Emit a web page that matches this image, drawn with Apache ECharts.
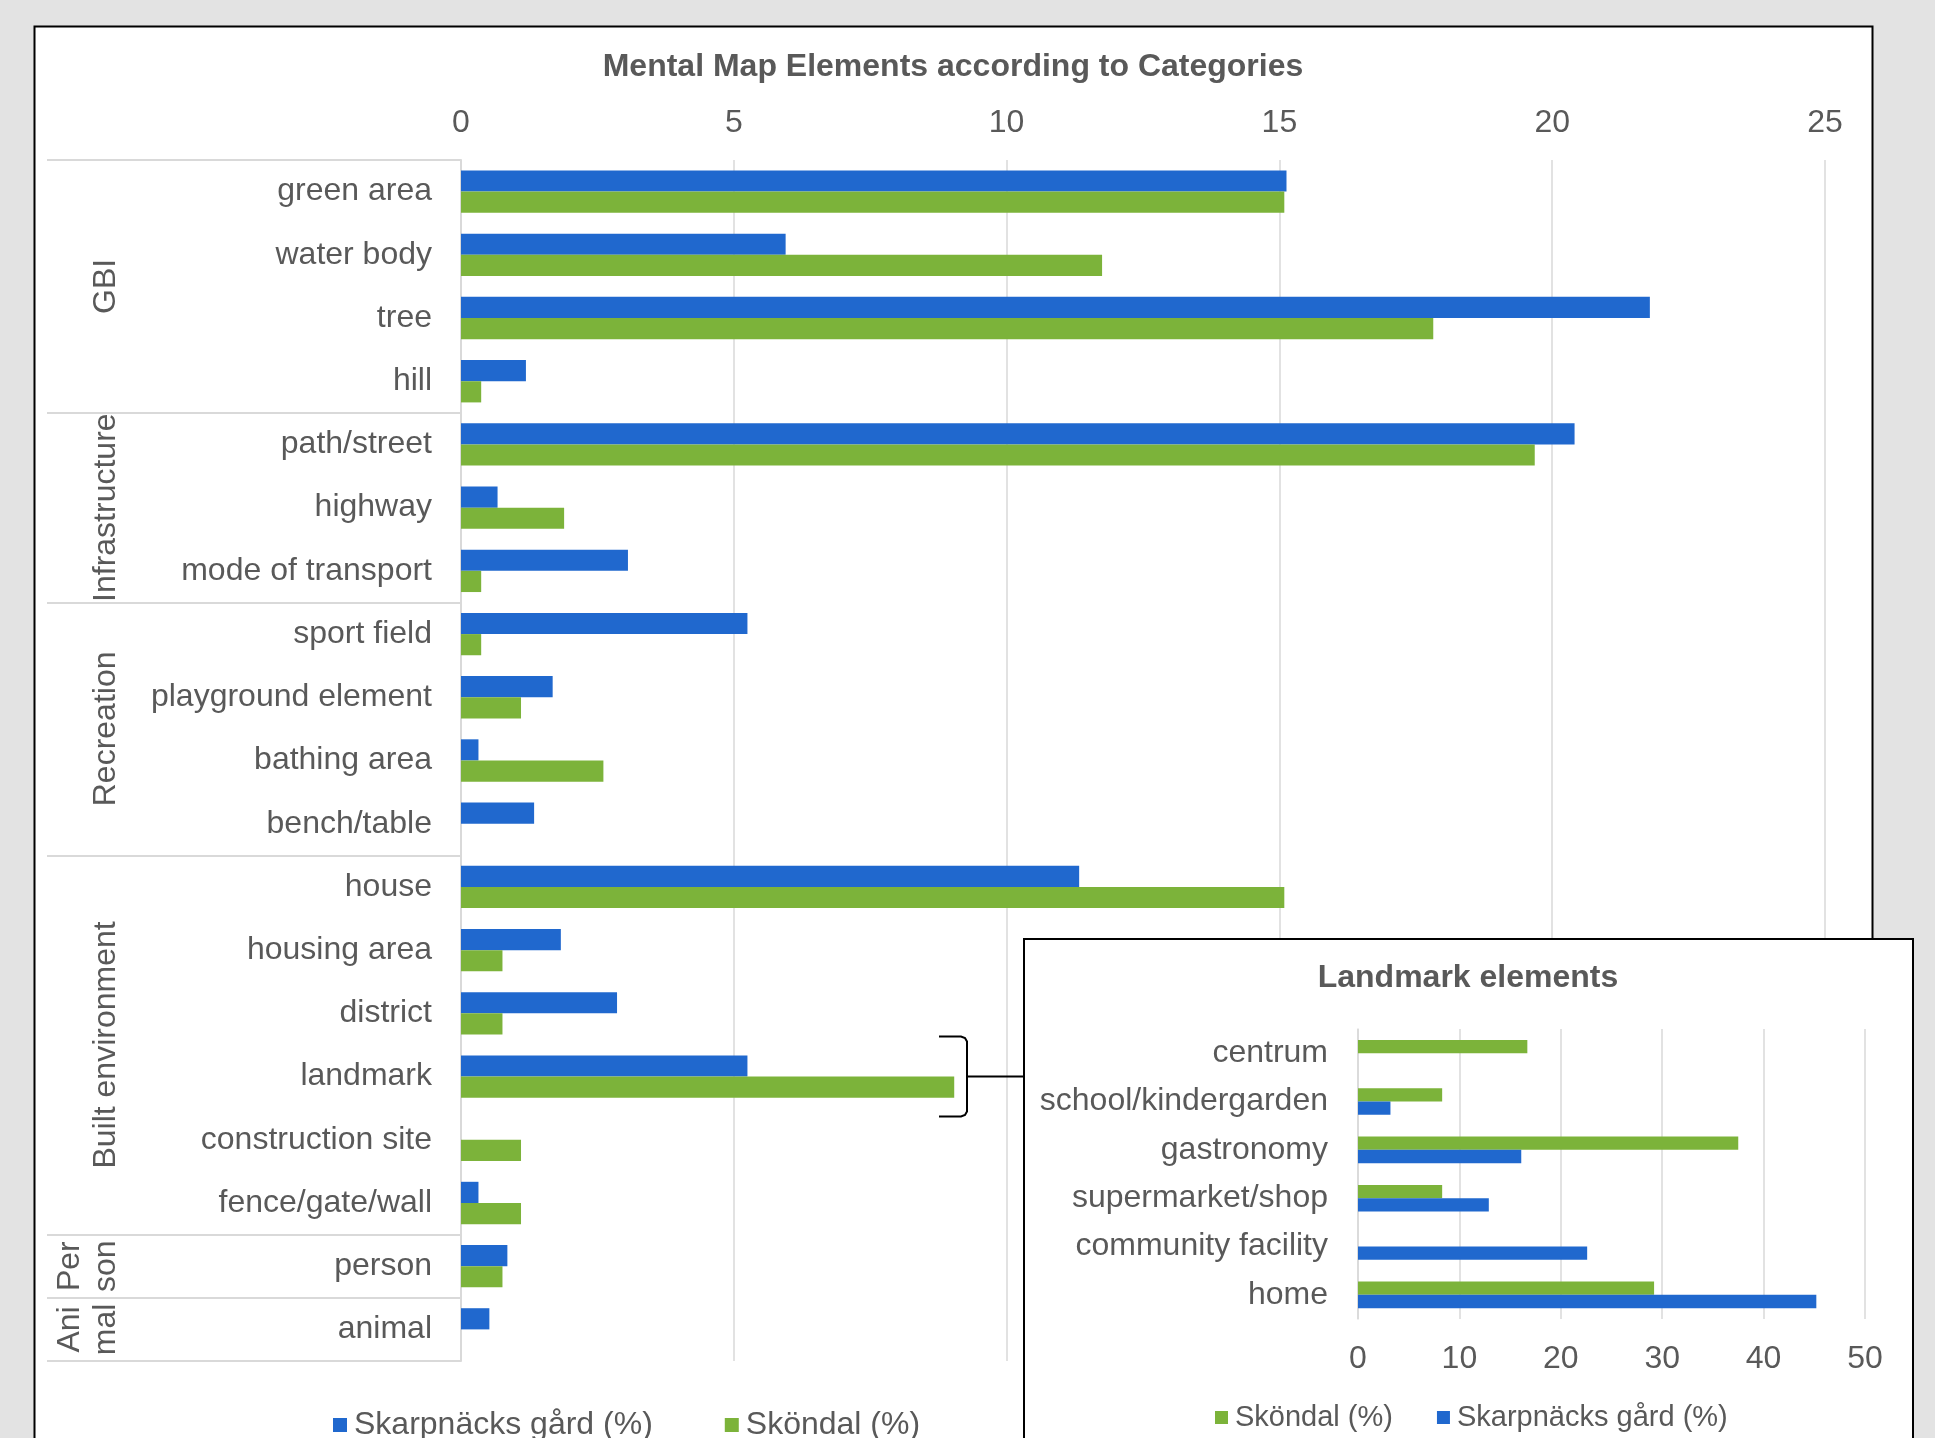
<!DOCTYPE html>
<html>
<head>
<meta charset="utf-8">
<script src="https://cdn.jsdelivr.net/npm/echarts@6/dist/echarts.min.js"></script>
<style>
html,body{margin:0;padding:0;background:#e3e3e3;overflow:hidden;}
#c{width:1935px;height:1438px;}
</style>
</head>
<body>
<div id="c"></div>
<script>
// ---------- data ----------
const categories = ['green area','water body','tree','hill','path/street','highway','mode of transport',
  'sport field','playground element','bathing area','bench/table','house','housing area','district',
  'landmark','construction site','fence/gate/wall','person','animal'];
const skarpnacks = [15.13, 5.95, 21.79, 1.19, 20.41, 0.67, 3.06, 5.25, 1.68, 0.32, 1.34, 11.33, 1.83, 2.86, 5.25, 0, 0.32, 0.85, 0.52];
const skondal    = [15.09, 11.75, 17.82, 0.37, 19.68, 1.89, 0.37, 0.37, 1.10, 2.61, 0, 15.09, 0.76, 0.76, 9.04, 1.10, 1.10, 0.76, 0];
const groupNames  = ['GBI','Infrastructure','Recreation','Built environment','Per\nson','Ani\nmal'];
const groupFirst  = [0, 4, 7, 11, 17, 18];
const groupLast   = [3, 6, 10, 16, 17, 18];
const mainTicks = [0, 5, 10, 15, 20, 25];

const landmarkCategories = ['centrum','school/kindergarden','gastronomy','supermarket/shop','community facility','home'];
const landmarkSkondal    = [16.7, 8.3, 37.5, 8.3, 0, 29.2];
const landmarkSkarpnacks = [0, 3.2, 16.1, 12.9, 22.6, 45.2];
const insetTicks = [0, 10, 20, 30, 40, 50];

const seriesNames = ['Skarpnäcks gård (%)', 'Sköndal (%)'];

// ---------- style ----------
const FONT = "'Liberation Sans', Arial, sans-serif";
const TXT = '#595959';
const GRIDC = '#d9d9d9';
const BLUE = '#2068ce';
const GREEN = '#7cb33a';

const chart = echarts.init(document.getElementById('c'), null, {renderer: 'canvas'});

const option = {
  backgroundColor: '#e3e3e3',
  animation: false,
  textStyle: {fontFamily: FONT},
  title: [
    {text: 'Mental Map Elements according to Categories', left: 953, top: 51, textAlign: 'center', padding: 0, z: 3,
     textStyle: {fontSize: 32, fontWeight: 'bold', color: TXT, fontFamily: FONT}},
    {text: 'Landmark elements', left: 1468, top: 962, textAlign: 'center', padding: 0, z: 13,
     textStyle: {fontSize: 32, fontWeight: 'bold', color: TXT, fontFamily: FONT}}
  ],
  legend: [
    {data: [seriesNames[0], seriesNames[1]], left: 333, top: 1409, padding: 0, itemGap: 72,
     itemWidth: 14, itemHeight: 14, icon: 'rect', z: 3, selectedMode: false,
     textStyle: {fontSize: 32, color: TXT, fontFamily: FONT, padding: [0, 0, 0, 2]}},
    {data: [seriesNames[1], seriesNames[0]], left: 1215, top: 1403, padding: 0, itemGap: 44,
     itemWidth: 13, itemHeight: 13, icon: 'rect', z: 13, selectedMode: false,
     textStyle: {fontSize: 29, color: TXT, fontFamily: FONT, padding: [0, 0, 0, 2]}}
  ],
  grid: [
    {left: 461, top: 160, width: 1364, height: 1201, containLabel: false},
    {left: 1358, top: 1029, width: 507, height: 290, containLabel: false}
  ],
  xAxis: [
    {gridIndex: 0, type: 'value', position: 'top', min: mainTicks[0], max: mainTicks[mainTicks.length - 1],
     interval: mainTicks[1] - mainTicks[0], z: 1,
     axisLine: {show: false}, axisTick: {show: false},
     axisLabel: {fontSize: 32, color: TXT, margin: 21, fontFamily: FONT},
     splitLine: {show: true, lineStyle: {color: GRIDC, width: 1.5}}},
    {gridIndex: 1, type: 'value', position: 'bottom', min: insetTicks[0], max: insetTicks[insetTicks.length - 1],
     interval: insetTicks[1] - insetTicks[0], z: 11,
     axisLine: {show: false}, axisTick: {show: false},
     axisLabel: {fontSize: 32, color: TXT, margin: 24, fontFamily: FONT},
     splitLine: {show: true, lineStyle: {color: GRIDC, width: 1.5}}}
  ],
  yAxis: [
    {gridIndex: 0, type: 'category', data: categories, inverse: true, z: 1,
     axisLine: {show: true, lineStyle: {color: GRIDC, width: 2}},
     axisTick: {show: true, length: 414, interval: function (i) { return groupFirst.indexOf(i) >= 0; },
                lineStyle: {color: GRIDC, width: 2}},
     axisLabel: {interval: 0, fontSize: 32, color: TXT, margin: 29, fontFamily: FONT}},
    {gridIndex: 1, type: 'category', data: landmarkCategories, inverse: true, z: 11,
     axisLine: {show: true, lineStyle: {color: GRIDC, width: 1.5}},
     axisTick: {show: false},
     axisLabel: {interval: 0, fontSize: 32, color: TXT, margin: 30, fontFamily: FONT}}
  ],
  series: [
    {name: seriesNames[0], type: 'bar', xAxisIndex: 0, yAxisIndex: 0, data: skarpnacks, z: 2, silent: true,
     itemStyle: {color: BLUE}, barGap: '0%', barCategoryGap: '33%'},
    {name: seriesNames[1], type: 'bar', xAxisIndex: 0, yAxisIndex: 0, data: skondal, z: 2, silent: true,
     itemStyle: {color: GREEN}, barGap: '0%', barCategoryGap: '33%'},
    {name: seriesNames[1], type: 'bar', xAxisIndex: 1, yAxisIndex: 1, data: landmarkSkondal, z: 12, silent: true,
     itemStyle: {color: GREEN}, barGap: '0%', barCategoryGap: '45%'},
    {name: seriesNames[0], type: 'bar', xAxisIndex: 1, yAxisIndex: 1, data: landmarkSkarpnacks, z: 12, silent: true,
     itemStyle: {color: BLUE}, barGap: '0%', barCategoryGap: '45%'}
  ]
};

chart.setOption(option);

// decorations computed from the axis scale
const yPix = function (c) { return chart.convertToPixel({yAxisIndex: 0}, c); };
const graphics = [
  {type: 'rect', z: 0, silent: true, shape: {x: 34.5, y: 26.5, width: 1838, height: 1500},
   style: {fill: '#ffffff', stroke: '#000000', lineWidth: 2}},
  {type: 'rect', z: 10, silent: true, shape: {x: 1024, y: 939, width: 889, height: 600},
   style: {fill: '#ffffff', stroke: '#000000', lineWidth: 2}}
];
groupNames.forEach(function (name, k) {
  const yc = (yPix(categories[groupFirst[k]]) + yPix(categories[groupLast[k]])) / 2;
  const two = name.indexOf('\n') >= 0;
  graphics.push({type: 'text', z: 3, silent: true, x: two ? 88 : 106, y: yc, rotation: Math.PI / 2,
    style: {text: name, fontSize: 32, fontFamily: FONT, fill: TXT, align: 'center', verticalAlign: 'middle', lineHeight: 36}});
});
const yl = yPix('landmark');
graphics.push({type: 'polyline', z: 3, silent: true,
  shape: {points: [[939, yl - 40], [961, yl - 40], [965, yl - 38.5], [967, yl - 35], [967, yl + 35],
                   [965, yl + 38.5], [961, yl + 40], [939, yl + 40]]},
  style: {fill: null, stroke: '#000000', lineWidth: 2}});
graphics.push({type: 'line', z: 3, silent: true,
  shape: {x1: 967, y1: yl, x2: 1024, y2: yl},
  style: {stroke: '#000000', lineWidth: 2}});
chart.setOption({graphic: graphics});
</script>
</body>
</html>
